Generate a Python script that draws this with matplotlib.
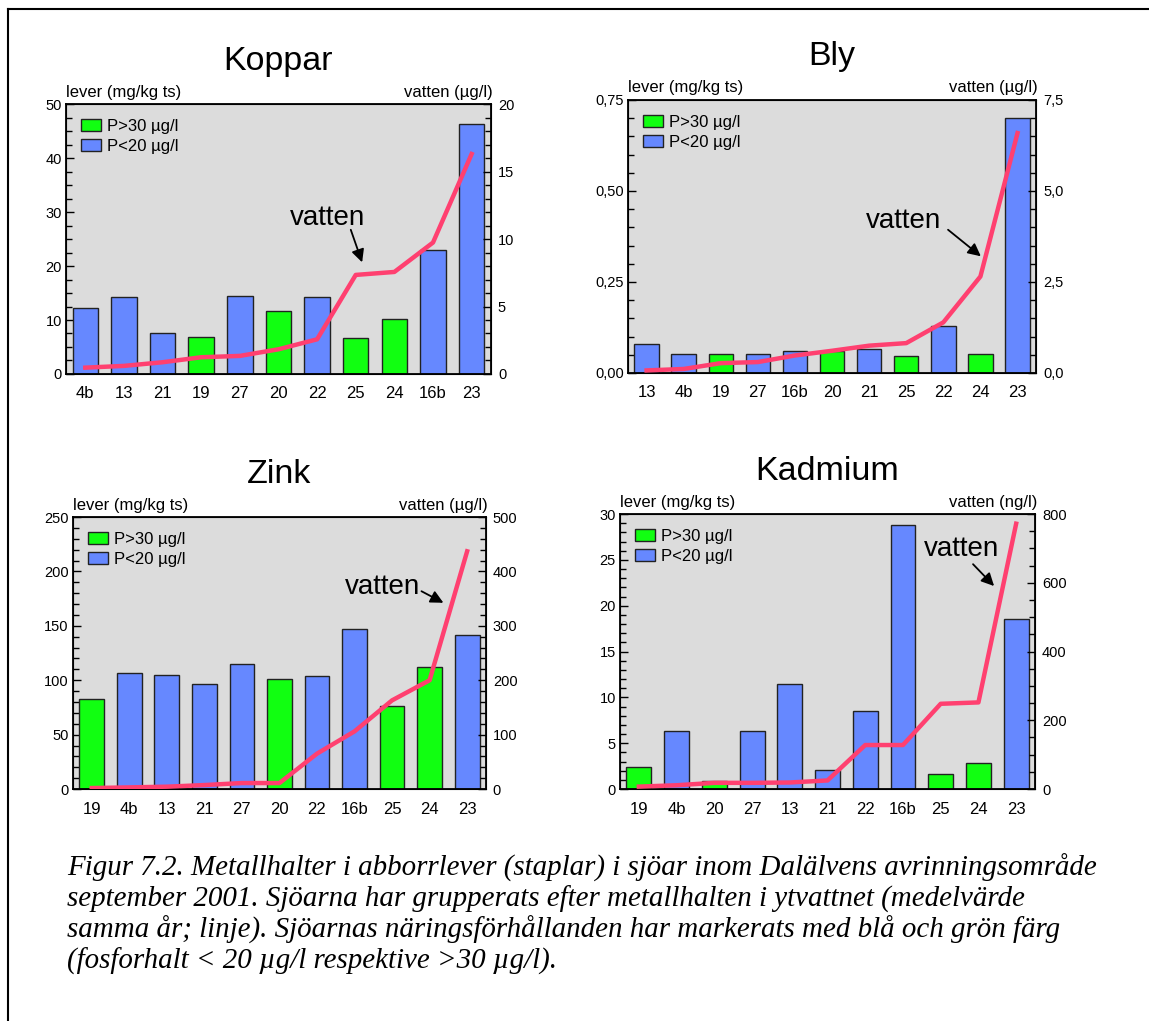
import matplotlib.pyplot as plt
from matplotlib.patches import Patch
from matplotlib.lines import Line2D
from matplotlib.ticker import MultipleLocator, FuncFormatter
import numpy as np

# Koppar
koppar_sjoar = ["4b", "13", "21", "19", "27", "20", "22", "25", "24", "16b", "23"]
koppar_lever = [12.2, 14.2, 7.5, 6.8, 14.5, 11.7, 14.2, 6.6, 10.1, 23.0, 46.3]
koppar_vatten = [0.47, 0.6, 0.87, 1.24, 1.34, 1.83, 2.57, 7.34, 7.56, 9.74, 16.3]
koppar_p = ["L", "L", "L", "H", "L", "H", "L", "H", "H", "L", "L"]

# Bly
bly_sjoar = ["13", "4b", "19", "27", "16b", "20", "21", "25", "22", "24", "23"]
bly_lever = [0.080, 0.052, 0.052, 0.052, 0.060, 0.060, 0.066, 0.046, 0.130, 0.052, 0.70]
bly_vatten = [0.07, 0.11, 0.27, 0.30, 0.48, 0.61, 0.75, 0.82, 1.39, 2.65, 6.59]
bly_p = ["L", "L", "H", "L", "L", "H", "L", "H", "L", "H", "L"]

# Zink
zink_sjoar = ["19", "4b", "13", "21", "27", "20", "22", "16b", "25", "24", "23"]
zink_lever = [82.8, 107, 104.5, 96.9, 114.6, 100.9, 103.6, 146.7, 76.7, 111.9, 141.8]
zink_vatten = [1.8, 3, 4.3, 7.3, 11, 11, 65, 106, 163, 200, 437]
zink_p = ["H", "L", "L", "L", "L", "H", "L", "L", "H", "H", "L"]

# Kadmium
kadmium_sjoar = ["19", "4b", "20", "27", "13", "21", "22", "16b", "25", "24", "23"]
kadmium_lever = [2.44, 6.37, 0.87, 6.37, 11.47, 2.04, 8.52, 28.8, 1.67, 2.84, 18.57]
kadmium_vatten = [7, 11, 18, 18, 19, 25, 128, 128, 248, 252, 772]
kadmium_p = ["H", "L", "H", "L", "L", "L", "L", "L", "H", "H", "L"]

gron = "#11ff11"
bla = "#6688ff"
rod = "#ff4070"
bakgrund = "#dcdcdc"

caption = [
    "Figur 7.2. Metallhalter i abborrlever (staplar) i sjöar inom Dalälvens avrinningsområde",
    "september 2001. Sjöarna har grupperats efter metallhalten i ytvattnet (medelvärde",
    "samma år; linje). Sjöarnas näringsförhållanden har markerats med blå och grön färg",
    "(fosforhalt < 20 µg/l respektive >30 µg/l).",
]

plt.rcParams['font.family'] = ['Liberation Sans', 'DejaVu Sans']

fig = plt.figure(figsize=(11.49, 10.21), dpi=100)


def komma(dec):
    return FuncFormatter(lambda v, pos: f"{v:.{dec}f}".replace(".", ","))


def rita(rect, titel, sjoar, lever, vatten, p, ylim, ymaj, ymin, y2lim, y2maj, y2min,
         enhet, textpos, pil_fran, pil_till, dec1=None, dec2=None):
    ax = fig.add_axes(rect)
    ax.set_facecolor(bakgrund)
    x = np.arange(len(sjoar))
    farger = [gron if k == "H" else bla for k in p]
    ax.bar(x, lever, width=0.66, color=farger, edgecolor="#222222", linewidth=1.0, zorder=2)
    ax.set_xlim(-0.5, len(sjoar) - 0.5)
    ax.set_ylim(0, ylim)
    ax.set_xticks(x)
    ax.set_xticklabels(sjoar, fontsize=12)
    ax.tick_params(axis="x", length=0, pad=9)
    ax.yaxis.set_major_locator(MultipleLocator(ymaj))
    ax.yaxis.set_minor_locator(MultipleLocator(ymin))
    ax.tick_params(axis="y", which="major", direction="in", length=6, width=1, labelsize=10.5, pad=3)
    ax.tick_params(axis="y", which="minor", direction="in", length=4, width=1)
    if dec1 is not None:
        ax.yaxis.set_major_formatter(komma(dec1))
    for s in ax.spines.values():
        s.set_linewidth(1.3)

    ax2 = ax.twinx()
    ax2.plot(x, vatten, color=rod, linewidth=3.2, solid_joinstyle="round", zorder=3)
    ax2.set_ylim(0, y2lim)
    ax2.yaxis.set_major_locator(MultipleLocator(y2maj))
    ax2.yaxis.set_minor_locator(MultipleLocator(y2min))
    ax2.tick_params(axis="y", which="major", direction="in", length=6, width=1, labelsize=10.5, pad=5)
    ax2.tick_params(axis="y", which="minor", direction="in", length=4, width=1)
    if dec2 is not None:
        ax2.yaxis.set_major_formatter(komma(dec2))

    h = rect[3] * 1021
    ax.text(0.5, 1 + 43 / h, titel, transform=ax.transAxes, ha="center", va="center", fontsize=24.5)
    ax.text(0.0, 1 + 12 / h, "lever (mg/kg ts)", transform=ax.transAxes, ha="left", va="center", fontsize=12)
    ax.text(1.005, 1 + 12 / h, enhet, transform=ax.transAxes, ha="right", va="center", fontsize=12)

    ax2.text(textpos[0], textpos[1], "vatten", transform=ax.transAxes, ha="center", va="center", fontsize=20)
    ax2.annotate("", xy=pil_till, xytext=pil_fran, xycoords="axes fraction", textcoords="axes fraction",
                 arrowprops=dict(arrowstyle="-|>", color="black", lw=1.3, mutation_scale=19))

    handles = [Patch(facecolor=gron, edgecolor="#222222", label="P>30 µg/l"),
               Patch(facecolor=bla, edgecolor="#222222", label="P<20 µg/l")]
    ax2.legend(handles=handles, loc="upper left", frameon=False, fontsize=12,
               handlelength=1.2, handleheight=0.75, handletextpad=0.35, labelspacing=0.3,
               borderaxespad=0.5)
    return ax


rita([0.0574, 0.6337, 0.3699, 0.2644], "Koppar", koppar_sjoar, koppar_lever, koppar_vatten, koppar_p,
     50, 10, 2.5, 20, 5, 1, "vatten (µg/l)", (0.616, 0.578), (0.668, 0.544), (0.699, 0.404))
rita([0.5466, 0.6347, 0.3551, 0.2674], "Bly", bly_sjoar, bly_lever, bly_vatten, bly_p,
     0.75, 0.25, 0.05, 7.5, 2.5, 0.5, "vatten (µg/l)", (0.676, 0.557), (0.779, 0.531), (0.870, 0.421),
     dec1=2, dec2=1)
rita([0.0635, 0.2272, 0.3594, 0.2664], "Zink", zink_sjoar, zink_lever, zink_vatten, zink_p,
     250, 50, 10, 500, 100, 20, "vatten (µg/l)", (0.75, 0.743), (0.838, 0.732), (0.903, 0.68))
rita([0.5396, 0.2272, 0.3612, 0.2693], "Kadmium", kadmium_sjoar, kadmium_lever, kadmium_vatten, kadmium_p,
     30, 5, 1, 800, 200, 50, "vatten (ng/l)", (0.824, 0.873), (0.846, 0.825), (0.906, 0.731))

# figurtext
for i, rad in enumerate(caption):
    fig.text(67 / 1149, 1 - (868 + 31 * i) / 1021, rad, fontfamily="Liberation Serif", style="italic",
             fontsize=20.9, va="center", ha="left")

# ram
fig.add_artist(Line2D([8 / 1149, 8 / 1149], [0, 1 - 9 / 1021], transform=fig.transFigure, color="black", lw=1.5))
fig.add_artist(Line2D([8 / 1149, 1], [1 - 9 / 1021, 1 - 9 / 1021], transform=fig.transFigure, color="black", lw=1.5))

plt.savefig("out.png", dpi=100)
